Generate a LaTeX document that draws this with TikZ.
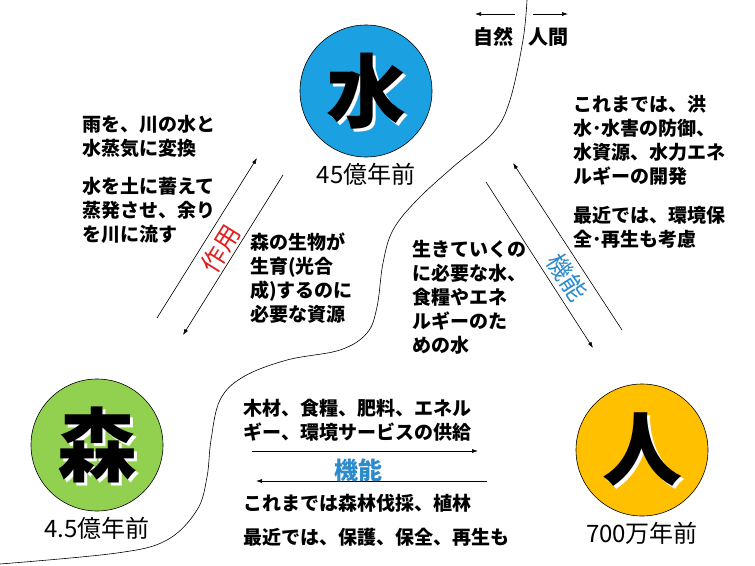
\documentclass[tikz,border=0pt]{standalone}
\usepackage{fontspec}
\setmainfont{Noto Sans CJK JP}
\usepackage{tikz}
\usetikzlibrary{positioning, calc, arrows.meta}

\definecolor{waterblue}{HTML}{1BA1E2}
\definecolor{forestgreen}{HTML}{92D050}
\definecolor{humanorange}{HTML}{FFC000}
\definecolor{funcblue}{HTML}{2E8BCB}
\definecolor{actred}{HTML}{E41E1E}

\begin{document}
\begin{tikzpicture}[x=1pt, y=-1pt,
	disc/.style={draw, circle, line width=0.6pt, minimum size=132pt, inner sep=0pt},
	glyph/.style={font=\fontsize{80}{80}\selectfont\bfseries, inner sep=0pt},
	age/.style={font=\fontsize{24}{24}\selectfont, inner sep=0pt},
	note/.style={font=\fontsize{19}{24}\selectfont\bfseries, align=left, anchor=north west, inner sep=0pt},
	side/.style={font=\fontsize{20}{20}\selectfont\bfseries, inner sep=0pt},
	edge/.style={-{Latex[length=6pt, width=4pt]}, line width=0.6pt}]

	\useasboundingbox (0,0) rectangle (755,565);

	% border between nature and people
	\draw[line width=0.6pt] plot[smooth, tension=0.6] coordinates {(527,0) (523,40) (510,100) (493,133) (453,167) (417,200) (393,230) (383,263) (377,307) (367,333) (340,350) (287,360) (243,377) (220,400) (211,440) (207,477) (197,510) (167,540) (117,553) (0,564)};

	\foreach \name/\px/\py/\colour/\kanji/\age in {water/366/91/waterblue/水/45億年前, forest/97/445/forestgreen/森/4.5億年前, human/642/450/humanorange/人/700万年前}
	{
		\node[disc, fill=\colour] (\name) at (\px,\py) {};
		\node[glyph, text=white] at ([shift={(3,3)}]\name.center) {\kanji};
		\node[glyph] at (\name.center) {\kanji};
		\node[age, below=6pt of \name] (\name-age) {\age};
	}

	\node[side] (nature) at (493,37) {自然};
	\node[side] (people) at (548,37) {人間};
	\coordinate (nature-s) at (515,14);
	\coordinate (nature-e) at (475,14);
	\coordinate (people-s) at (533,14);
	\coordinate (people-e) at (568,14);

	\node[note] (rain) at (82,115.5) {雨を、川の水と\\水蒸気に変換\\[14pt]水を土に蓄えて\\蒸発させ、余り\\を川に流す};
	\node[note] (resource) at (250,232.5) {森の生物が\\生育(光合\\成)するのに\\必要な資源};
	\node[note] (needs) at (412,240.5) {生きていくの\\に必要な水、\\食糧やエネ\\ルギーのた\\めの水};
	\node[note] (flood) at (573,95.5) {これまでは、洪\\水･水害の防御、\\水資源、水力エネ\\ルギーの開発\\[15pt]最近では、環境保\\全･再生も考慮};
	\node[note] (supply) at (243,398.5) {木材、食糧、肥料、エネル\\ギー、環境サービスの供給};
	\node[note] (past) at (243,493.5) {これまでは森林伐採、植林};
	\node[note] (recent) at (243,527.5) {最近では、保護、保全、再生も};

	% arrow ends
	\coordinate (act-a) at (157,318);
	\coordinate (act-b) at (257,158);
	\coordinate (act-c) at (283,175);
	\coordinate (act-d) at (183,335);
	\coordinate (use-a) at (486,182);
	\coordinate (use-b) at (593,348);
	\coordinate (use-c) at (622,330);
	\coordinate (use-d) at (513,163);
	\coordinate (give-a) at (252,451);
	\coordinate (give-b) at (478,451);
	\coordinate (give-c) at (487,481);
	\coordinate (give-d) at (256,481);

	\foreach \source/\target in {nature-s/nature-e, people-s/people-e, act-a/act-b, act-c/act-d, use-a/use-b, use-c/use-d, give-a/give-b, give-c/give-d} {
		\draw[edge] (\source) -- (\target);
	}

	\node[rotate=58, text=actred, font=\fontsize{25}{25}\selectfont, inner sep=0pt] (act) at (221,249) {作用};
	\node[rotate=-57, text=funcblue, font=\fontsize{25}{25}\selectfont, inner sep=0pt] (use) at (567,277) {機能};
	\node[text=funcblue, font=\fontsize{24}{24}\selectfont\bfseries, inner sep=0pt] (give) at (358,470) {機能};

\end{tikzpicture}
\end{document}
